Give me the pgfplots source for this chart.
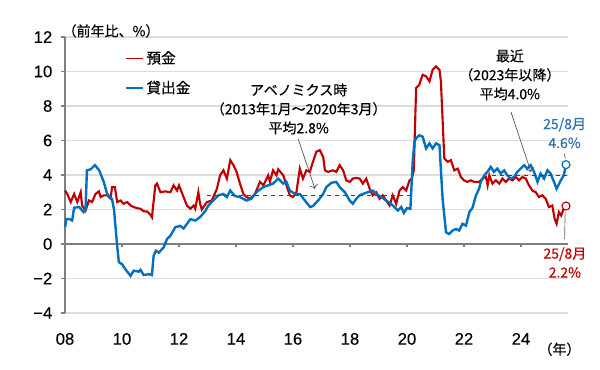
\documentclass[border=0pt]{standalone}
\usepackage{pgfplots}
\usepackage{pgfplotstable}
\pgfplotsset{compat=1.18}
\usetikzlibrary{arrows.meta}
\usepackage{fontspec}
\setmainfont{Liberation Sans}[FakeBold=0.3]
\newfontfamily\jp{Noto Sans CJK JP}[FakeBold=0.4]
\definecolor{dep}{HTML}{C00000}
\definecolor{loan}{HTML}{0070C0}
\definecolor{lblue}{HTML}{2E6DB4}
\definecolor{gridc}{HTML}{DDDDDD}
\definecolor{axc}{HTML}{7F7F7F}

% x = year (decimal), y = % year on year
\pgfplotstableread{
x y
2008.00 3.1
2008.08 2.9
2008.20 2.43
2008.32 2.9
2008.43 2.43
2008.55 3.0
2008.60 2.23
2008.72 1.94
2008.84 2.52
2008.95 2.43
2009.07 2.9
2009.19 3.05
2009.25 2.72
2009.36 2.82
2009.48 2.82
2009.60 2.62
2009.65 3.3
2009.75 3.3
2009.83 2.43
2009.95 2.52
2010.06 2.33
2010.18 2.43
2010.30 2.23
2010.41 2.14
2010.53 2.08
2010.65 2.04
2010.76 1.9
2010.88 1.88
2011.00 1.69
2011.05 1.55
2011.17 3.4
2011.23 3.5
2011.35 3.0
2011.52 3.05
2011.70 3.0
2011.81 3.4
2011.93 3.1
2012.00 3.4
2012.16 2.72
2012.28 2.23
2012.40 2.04
2012.51 2.23
2012.57 2.04
2012.68 3.0
2012.74 2.33
2012.80 2.0
2012.98 2.43
2013.15 2.52
2013.33 3.2
2013.44 3.98
2013.56 4.27
2013.68 3.79
2013.80 4.86
2013.91 4.57
2014.02 4.18
2014.14 3.5
2014.26 2.9
2014.37 2.72
2014.50 2.62
2014.67 2.92
2014.84 3.6
2014.96 3.4
2015.13 3.98
2015.19 3.6
2015.30 4.27
2015.42 3.98
2015.48 4.33
2015.66 3.98
2015.77 3.4
2015.89 2.82
2016.00 2.72
2016.12 3.0
2016.24 4.37
2016.35 3.79
2016.47 4.27
2016.59 4.18
2016.70 4.76
2016.82 5.35
2016.94 5.44
2017.06 5.05
2017.12 4.27
2017.23 4.18
2017.40 4.27
2017.52 4.18
2017.64 4.57
2017.76 4.27
2017.87 3.69
2017.99 3.6
2018.10 3.79
2018.22 3.83
2018.34 3.79
2018.45 3.5
2018.57 3.79
2018.69 3.2
2018.80 2.82
2018.92 3.0
2019.04 2.62
2019.15 2.82
2019.27 2.52
2019.39 2.23
2019.50 2.82
2019.62 2.33
2019.74 3.1
2019.85 3.3
2019.97 3.1
2020.09 3.69
2020.17 3.79
2020.24 4.27
2020.32 9.04
2020.43 9.23
2020.55 9.81
2020.67 9.72
2020.79 9.43
2020.90 10.1
2021.02 10.3
2021.14 10.1
2021.19 9.43
2021.31 4.96
2021.43 4.76
2021.54 4.86
2021.66 4.27
2021.78 4.37
2021.89 3.89
2022.00 3.69
2022.12 3.6
2022.24 3.69
2022.36 3.6
2022.53 3.6
2022.65 3.79
2022.77 3.89
2022.83 3.4
2022.89 3.98
2023.00 3.5
2023.12 3.69
2023.24 3.5
2023.35 3.79
2023.47 3.6
2023.58 3.79
2023.70 3.69
2023.82 3.89
2023.93 3.69
2024.05 3.89
2024.17 3.79
2024.28 3.4
2024.40 3.1
2024.52 3.0
2024.63 2.72
2024.75 2.82
2024.87 2.62
2024.98 2.14
2025.10 2.23
2025.18 1.46
2025.25 1.17
2025.33 1.85
2025.41 1.65
2025.50 2.04
2025.58 2.2
}\deposits

\pgfplotstableread{
x y
2008.00 0.97
2008.05 1.45
2008.15 1.45
2008.25 1.36
2008.32 2.1
2008.50 2.15
2008.65 1.85
2008.72 2.0
2008.77 4.27
2008.90 4.33
2009.05 4.57
2009.20 4.27
2009.36 3.6
2009.48 2.9
2009.65 2.6
2009.72 2.0
2009.83 -0.1
2009.89 -1.05
2010.00 -1.17
2010.12 -1.46
2010.30 -1.85
2010.41 -1.55
2010.59 -1.6
2010.65 -1.5
2010.76 -1.8
2010.94 -1.75
2011.05 -1.8
2011.11 -0.68
2011.19 -0.39
2011.29 -0.5
2011.46 -0.2
2011.58 0.29
2011.70 0.48
2011.87 0.97
2012.04 1.05
2012.16 0.9
2012.40 1.44
2012.57 1.36
2012.74 1.56
2012.92 1.9
2013.03 2.23
2013.20 2.52
2013.38 2.82
2013.56 2.9
2013.68 2.72
2013.80 3.1
2013.96 2.78
2014.14 2.72
2014.37 2.52
2014.54 2.62
2014.72 3.01
2014.96 3.3
2015.13 3.4
2015.30 3.5
2015.48 3.79
2015.66 3.5
2015.77 3.6
2015.89 3.1
2016.07 2.9
2016.24 2.9
2016.42 2.52
2016.60 2.14
2016.70 2.2
2016.88 2.52
2017.06 2.9
2017.17 3.3
2017.35 3.55
2017.52 3.6
2017.64 3.3
2017.82 3.0
2017.99 2.52
2018.10 2.33
2018.22 2.62
2018.34 2.82
2018.45 2.9
2018.62 3.0
2018.80 3.1
2018.92 2.9
2019.10 2.72
2019.27 2.52
2019.44 2.33
2019.56 2.14
2019.68 1.94
2019.80 2.14
2019.89 1.8
2020.00 2.08
2020.12 2.04
2020.20 4.76
2020.26 5.93
2020.32 6.12
2020.43 6.3
2020.55 6.22
2020.67 5.54
2020.79 5.83
2020.90 5.54
2021.02 5.83
2021.14 5.73
2021.25 2.62
2021.37 0.68
2021.48 0.58
2021.60 0.78
2021.72 0.87
2021.83 0.78
2021.95 1.17
2022.07 1.07
2022.19 1.85
2022.30 2.1
2022.42 2.82
2022.53 3.2
2022.59 3.6
2022.71 3.98
2022.82 4.18
2022.94 4.47
2023.05 4.18
2023.17 4.37
2023.29 4.08
2023.41 4.27
2023.52 3.98
2023.64 3.79
2023.76 3.89
2023.87 4.18
2023.99 4.37
2024.11 4.57
2024.22 4.37
2024.34 4.57
2024.46 4.18
2024.58 3.6
2024.69 4.08
2024.81 3.79
2024.93 4.27
2025.04 4.08
2025.16 3.6
2025.25 3.2
2025.37 3.6
2025.50 3.98
2025.58 4.6
}\loans

\begin{document}
\begin{tikzpicture}
\useasboundingbox (-48.75pt,-42.75pt) rectangle (401.25pt,234.75pt);
\begin{axis}[
  at={(0,0)}, anchor=south west,
  width=377.25pt, height=207pt, scale only axis,
  xmin=8, xmax=25.65, ymin=-4, ymax=12,
  clip=false,
  axis x line*=bottom, axis y line*=left,
  x axis line style={draw=none},
  y axis line style={draw=axc, line width=0.8pt, -},
  xtick={8,10,...,24}, xticklabels={08,10,12,14,16,18,20,22,24},
  ytick={-4,-2,...,12}, yticklabels={−4,−2,0,2,4,6,8,10,12},
  xtick style={draw=none},
  ytick style={draw=axc, line width=0.8pt},
  tick align=outside, major tick length=3pt,
  ymajorgrids, grid style={gridc, line width=0.8pt},
  tick label style={font=\fontsize{12.5}{14}\selectfont, text=black},
  xticklabel style={yshift=-8.5pt},
  yticklabel style={xshift=-3pt},
  legend style={at={(axis cs:10.1,11.35)}, anchor=north west, draw=none, fill=none,
    font=\jp\fontsize{11}{13}\selectfont, row sep=7.5pt, inner sep=0pt},
  legend cell align=left,
  legend image code/.code={\draw[#1, line width=1pt] (0pt,0pt) -- (13pt,0pt);},
]
% zero line with ticks
\draw[axc, line width=0.8pt] (axis cs:8,0) -- (axis cs:25.65,0);
\pgfplotsinvokeforeach{10,12,14,16,18,20,22,24}{
  \draw[axc, line width=0.8pt] (axis cs:#1,0) -- (axis cs:#1,-0.2);
}

\addplot[dep, line width=1.6pt] table[x expr=\thisrow{x}-2000, y=y] {\deposits};
\addlegendentry{預金}
\addplot[loan, line width=1.8pt] table[x expr=\thisrow{x}-2000, y=y] {\loans};
\addlegendentry{貸出金}

% averages
\addplot[black!75, dashed, line width=0.7pt, forget plot] coordinates {(13.0,2.8) (20.21,2.8)};
\addplot[black!75, dashed, line width=0.7pt, forget plot] coordinates {(23.0,4.0) (25.62,4.0)};

% end markers
\addplot[only marks, mark=*, mark size=3pt, mark options={draw=loan, fill=white, line width=0.9pt}, forget plot] coordinates {(25.58,4.6)};
\addplot[only marks, mark=*, mark size=3pt, mark options={draw=dep, fill=white, line width=0.9pt}, forget plot] coordinates {(25.58,2.2)};

% annotations
\node[font=\jp\fontsize{10.5}{14.25}\selectfont, align=center] at (axis cs:16.2,7.83)
  {アベノミクス時\\（2013年1月～2020年3月）\\平均2.8\%};
\draw[-{To[length=3pt]}, black!70, line width=0.5pt] (axis cs:16.18,6.1) -- (axis cs:16.77,3.2);

\node[font=\jp\fontsize{10.5}{14.25}\selectfont, align=center] at (axis cs:23.61,9.8)
  {最近\\（2023年以降）\\平均4.0\%};
\draw[-{To[length=3pt]}, black!70, line width=0.5pt] (axis cs:23.65,7.65) -- (axis cs:24.35,4.17);

\node[font=\jp\fontsize{10.5}{14.25}\selectfont, align=center, text=lblue] at (axis cs:25.53,6.43)
  {25/8月\\4.6\%};
\draw[black!60, line width=0.5pt] (axis cs:25.51,5.25) -- (axis cs:25.56,4.95);

\node[font=\jp\fontsize{10.5}{14.25}\selectfont, align=center, text=dep] at (axis cs:25.54,-1.08)
  {25/8月\\2.2\%};
\draw[black!60, line width=0.5pt] (axis cs:25.55,1.85) -- (axis cs:25.53,0.3);

\node[font=\jp\fontsize{10.5}{13}\selectfont, anchor=west] at (axis cs:7.75,12.35) {（前年比、\%）};
\node[font=\jp\fontsize{10.5}{13}\selectfont] at (axis cs:25.35,-6.1) {（年）};
\end{axis}
\end{tikzpicture}
\end{document}
